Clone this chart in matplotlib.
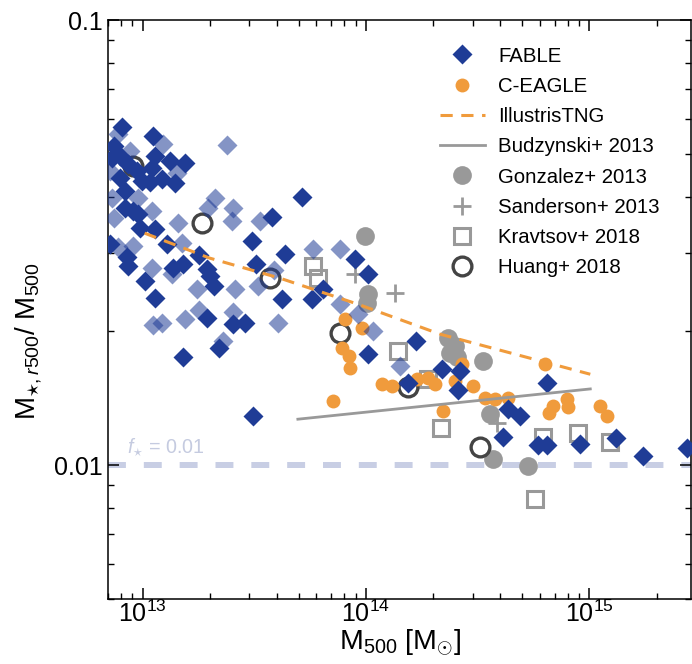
import numpy as np
import matplotlib
matplotlib.use("Agg")
import matplotlib.pyplot as plt
from matplotlib.lines import Line2D

plt.rcParams['font.family'] = ['Liberation Sans', 'DejaVu Sans']
plt.rcParams['mathtext.fontset'] = 'custom'
plt.rcParams['mathtext.rm'] = 'Liberation Sans'
plt.rcParams['mathtext.it'] = 'Liberation Sans:italic'
plt.rcParams['mathtext.bf'] = 'Liberation Sans:bold'

# ---- data (log10 values) ----
# FABLE, main (dark) points
fable_logm = [12.910, 13.045, 12.874, 12.901, 12.933, 13.054, 13.121, 13.188, 13.040, 12.897,
              12.996, 13.085, 13.143, 12.973, 12.919, 12.919, 12.978, 12.987, 13.054, 13.489,
              13.108, 12.928, 12.933, 13.251, 13.507, 13.713, 13.578, 13.637, 13.287, 13.318,
              13.300, 13.623, 13.758, 13.807, 13.135, 13.179, 13.054, 13.009, 12.852, 13.287,
              13.404, 13.457, 13.341, 13.179, 13.493, 13.951, 14.009, 14.224, 14.009, 14.188,
              14.341, 14.422, 14.413, 14.637, 14.691, 14.614, 14.771, 14.812, 14.812, 14.960,
              15.117, 15.242, 15.439, 12.865, 13.031, 12.955]
fable_logf = [-1.240, -1.261, -1.283, -1.306, -1.324, -1.306, -1.317, -1.321, -1.333, -1.355,
              -1.362, -1.357, -1.366, -1.339, -1.384, -1.422, -1.436, -1.467, -1.470, -1.497,
              -1.503, -1.533, -1.553, -1.528, -1.548, -1.398, -1.443, -1.526, -1.560, -1.598,
              -1.575, -1.627, -1.627, -1.604, -1.557, -1.548, -1.625, -1.587, -1.503, -1.670,
              -1.683, -1.681, -1.737, -1.757, -1.890, -1.537, -1.571, -1.721, -1.751, -1.816,
              -1.784, -1.789, -1.831, -1.874, -1.890, -1.937, -1.955, -1.955, -1.816, -1.953,
              -1.939, -1.980, -1.962, -1.310, -1.364, -1.429]

# FABLE, secondary (light) points
fable2_logm = [12.888, 13.090, 13.377, 13.152, 12.978, 12.861, 13.323, 13.291, 13.404, 13.399,
               13.525, 13.040, 12.874, 13.157, 13.175, 12.888, 12.955, 13.762, 13.883, 13.883,
               13.587, 13.516, 13.413, 13.242, 13.040, 13.130, 13.045, 13.085, 13.188, 13.251,
               13.404, 13.605, 13.359, 13.964, 14.031, 14.152, 12.942, 12.852]
fable2_logf = [-1.256, -1.279, -1.281, -1.344, -1.400, -1.400, -1.400, -1.422, -1.422, -1.452,
               -1.452, -1.429, -1.445, -1.456, -1.501, -1.510, -1.508, -1.515, -1.515, -1.638,
               -1.562, -1.598, -1.604, -1.604, -1.557, -1.571, -1.685, -1.681, -1.672, -1.652,
               -1.656, -1.681, -1.721, -1.661, -1.699, -1.778, -1.294, -1.339]

# C-EAGLE
ceagle_logm = [13.906, 13.982, 13.892, 13.924, 13.928, 13.852, 14.072, 14.117, 14.229, 14.278,
               14.309, 14.399, 14.430, 14.480, 14.345, 14.534, 14.578, 14.637, 14.803, 14.839,
               14.821, 14.901, 14.906, 15.049, 15.081]
ceagle_logf = [-1.672, -1.692, -1.737, -1.755, -1.782, -1.856, -1.818, -1.822, -1.807, -1.804,
               -1.818, -1.811, -1.773, -1.822, -1.879, -1.849, -1.852, -1.849, -1.773, -1.867,
               -1.883, -1.852, -1.870, -1.867, -1.890]

# IllustrisTNG relation
tng_logm = [13.009, 13.300, 13.614, 13.960, 14.332, 14.735, 15.004]
tng_logf = [-1.479, -1.535, -1.580, -1.638, -1.706, -1.760, -1.796]

# Budzynski+ 2013 relation
budz_logm = [13.695, 15.004]
budz_logf = [-1.897, -1.829]

# Gonzalez+ 2013
gonz_logm = [13.996, 14.009, 14.004, 14.368, 14.377, 14.399, 14.408, 14.525, 14.556, 14.570, 14.726]
gonz_logf = [-1.485, -1.616, -1.636, -1.715, -1.748, -1.733, -1.757, -1.766, -1.885, -1.987, -2.002]

# Sanderson+ 2013
sand_logm = [13.951, 14.130, 14.587]
sand_logf = [-1.571, -1.613, -1.906]

# Kravtsov+ 2018
krav_logm = [13.762, 13.785, 14.143, 14.278, 14.336, 14.794, 14.951, 15.094, 14.758]
krav_logf = [-1.553, -1.580, -1.744, -1.807, -1.917, -1.937, -1.928, -1.948, -2.076]

# Huang+ 2018
huang_logm = [12.955, 13.265, 13.570, 13.883, 14.188, 14.511]
huang_logf = [-1.328, -1.456, -1.580, -1.703, -1.825, -1.960]

fstar_ref = 0.01

def p(a):
    return np.power(10.0, np.asarray(a))

DARK = '#1f3c96'
ORANGE = '#f09b3c'
GRAY = '#999999'
DMS = 10.5

fig = plt.figure(figsize=(6.92, 6.64), dpi=100)
ax = fig.add_axes([108/692, 1 - 599/664, 583/692, 579/664])
ax.set_xscale('log')
ax.set_yscale('log')
ax.set_xlim(7.0e12, 2.85e15)
ax.set_ylim(0.005, 0.1)

# reference line f* = 0.01
ax.axhline(fstar_ref, color='#c8cee4', lw=4.3, dashes=(3, 3), zorder=0)
ax.text(0.033, 0.262, r'$f_{\star}$ = 0.01', transform=ax.transAxes, color='#c5cbe0',
        fontsize=14.2, va='center', ha='left')

# relations
ax.plot(p(tng_logm), p(tng_logf), color=ORANGE, lw=2.2, dashes=(4, 2.8), zorder=5)
ax.plot(p(budz_logm), p(budz_logf), color=GRAY, lw=2.0, zorder=5)

# observations
ax.plot(p(gonz_logm), p(gonz_logf), 'o', ms=13.5, color=GRAY, mec='none', zorder=2)
ax.plot(p(sand_logm), p(sand_logf), '+', ms=13, mew=2, color=GRAY, zorder=2)
ax.plot(p(krav_logm), p(krav_logf), 's', ms=11.5, mfc='none', mec=GRAY, mew=2.2, zorder=2)
ax.plot(p(huang_logm), p(huang_logf), 'o', ms=13.5, mfc='none', mec='#444444', mew=2.4, zorder=2)

# simulations
ax.plot(p(ceagle_logm), p(ceagle_logf), 'o', ms=10, color=ORANGE, mec='none', zorder=3)
ax.plot(p(fable2_logm), p(fable2_logf), 'D', ms=DMS, color=DARK, alpha=0.55, mec='none', zorder=4)
ax.plot(p(fable_logm), p(fable_logf), 'D', ms=DMS, color=DARK, mec='none', zorder=4)

# axes styling
for s in ax.spines.values():
    s.set_linewidth(1.1)
ax.tick_params(which='both', direction='in', top=True, right=True, labelsize=18)
ax.tick_params(axis='x', which='major', pad=1.5)
ax.tick_params(which='major', length=8, width=1.1)
ax.tick_params(which='minor', length=4, width=1.0)
ax.set_yticks([0.01, 0.1])
ax.set_yticklabels(['0.01', '0.1'])
ax.set_xticks([1e13, 1e14, 1e15])
ax.set_xticklabels([r'$10^{13}$', r'$10^{14}$', r'$10^{15}$'])

ax.set_xlabel(r'M$_{500}$ [M$_{\odot}$]', fontsize=20.5, labelpad=0)
ax.set_ylabel(r'M$_{\star,r500}$/ M$_{500}$', fontsize=20)
ax.yaxis.set_label_coords(-0.11, 0.445)

handles = [
    Line2D([], [], ls='none', marker='D', ms=DMS, color=DARK, mec='none'),
    Line2D([], [], ls='none', marker='o', ms=10, color=ORANGE, mec='none'),
    Line2D([], [], color=ORANGE, lw=2.2, dashes=(4, 2.8)),
    Line2D([], [], color=GRAY, lw=2.0),
    Line2D([], [], ls='none', marker='o', ms=13.5, color=GRAY, mec='none'),
    Line2D([], [], ls='none', marker='+', ms=13, mew=2, color=GRAY),
    Line2D([], [], ls='none', marker='s', ms=11.5, mfc='none', mec=GRAY, mew=2.2),
    Line2D([], [], ls='none', marker='o', ms=13.5, mfc='none', mec='#444444', mew=2.4),
]
labels = ['FABLE', 'C-EAGLE', 'IllustrisTNG', 'Budzynski+ 2013', 'Gonzalez+ 2013',
          'Sanderson+ 2013', 'Kravtsov+ 2018', 'Huang+ 2018']
ax.legend(handles, labels, loc='upper left', bbox_to_anchor=(0.569, 0.954), frameon=False,
          fontsize=14.7, handlelength=2.2, handletextpad=0.65, labelspacing=0.55,
          borderpad=0, borderaxespad=0)

fig.savefig('out.png', dpi=100)
